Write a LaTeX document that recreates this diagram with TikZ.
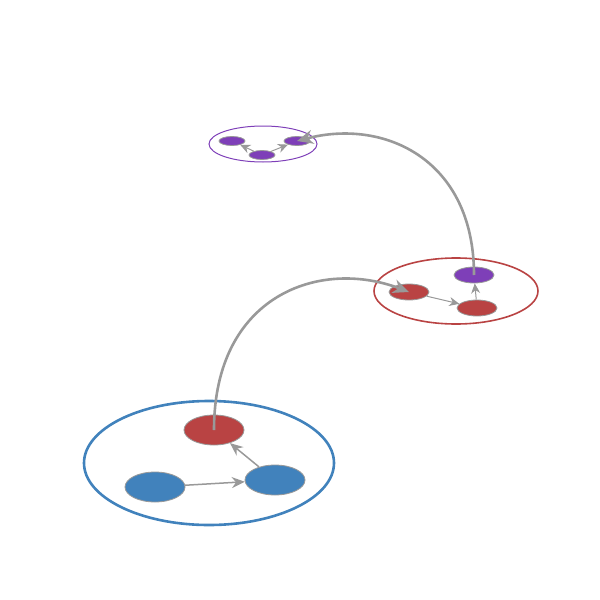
\documentclass[tikz,border=0pt]{standalone}
\usetikzlibrary{shapes.geometric,arrows.meta}
\definecolor{cblue}{HTML}{4182BC}
\definecolor{cred}{HTML}{B94343}
\definecolor{cpurp}{HTML}{7E3FB8}
\definecolor{cgray}{HTML}{999999}
\tikzset{
  nd/.style={ellipse, draw=cgray, line width=0.4pt, inner sep=0pt},
  big/.style={nd, minimum width=30pt, minimum height=15pt},
  mid/.style={nd, minimum width=20pt, minimum height=8pt},
  sml/.style={nd, minimum width=13pt, minimum height=4.5pt},
  link/.style={draw=cgray, line width=0.75pt, -{Stealth[length=6.5pt,width=5.5pt]}},
  thinlink/.style={draw=cgray, line width=0.5pt, -{Stealth[length=5pt,width=4.5pt]}},
  curve/.style={draw=cgray, line width=1.3pt, -{Stealth[length=8pt,width=7pt]}},
}
\begin{document}
\begin{tikzpicture}[x=0.5pt,y=-0.5pt]
\useasboundingbox (0,0) rectangle (600,600);
% group ellipses
\node[ellipse, draw=cblue, line width=1.3pt, minimum width=125pt, minimum height=62pt, inner sep=0pt] (G1) at (209,463) {};
\node[ellipse, draw=cred, line width=0.8pt, minimum width=82pt, minimum height=33pt, inner sep=0pt] (G2) at (456,291) {};
\node[ellipse, draw=cpurp, line width=0.5pt, minimum width=54pt, minimum height=18pt, inner sep=0pt] (G3) at (263,144) {};
% big group
\node[big, fill=cred] (a) at (214,430) {};
\node[big, fill=cblue] (b) at (155,487) {};
\node[big, fill=cblue] (c) at (275,480) {};
% middle group
\node[mid, fill=cred] (d) at (409,292) {};
\node[mid, fill=cred] (e) at (477,308) {};
\node[mid, fill=cpurp] (f) at (474,275) {};
% small group
\node[sml, fill=cpurp] (g) at (232,141) {};
\node[sml, fill=cpurp] (h) at (262,155) {};
\node[sml, fill=cpurp] (i) at (297,141) {};
% edges
\draw[link] (b) -- (c);
\draw[link] (c) -- (a);
\draw[thinlink] (d) -- (e);
\draw[thinlink] (e) -- (f);
\draw[thinlink] (h) -- (g);
\draw[thinlink] (h) -- (i);
% curves
\draw[curve] (a.center) .. controls (214,295) and (320,258) .. (d.center);
\draw[curve] (f.center) .. controls (474,160) and (385,118) .. (i.center);
\end{tikzpicture}
\end{document}
